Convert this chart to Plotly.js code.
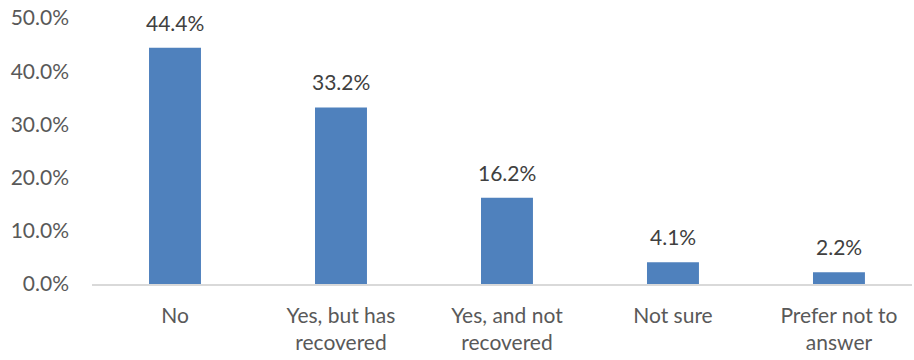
<!DOCTYPE html>
<html><head><meta charset="utf-8">
<script src="https://cdn.plot.ly/plotly-3.0.1.min.js"></script>
<style>body{margin:0;background:#fff}#c{width:914px;height:360px}</style>
</head><body><div id="c"></div>
<script>
const categories = ["No", "Yes, but has<br>recovered", "Yes, and not<br>recovered", "Not sure", "Prefer not to<br>answer"];
const values = [44.4, 33.2, 16.2, 4.1, 2.2];
const tickVals = [0, 10, 20, 30, 40, 50];
const tickText = ["0.0%", "10.0%", "20.0%", "30.0%", "40.0%", "50.0%"];

const font = "Lato, 'Open Sans', sans-serif";
Plotly.newPlot("c", [{
  type: "bar",
  x: categories,
  y: values,
  marker: {color: "#4F81BD"},
  hoverinfo: "none"
}], {
  width: 914, height: 360,
  margin: {l: 92, r: 2, t: 18, b: 76},
  paper_bgcolor: "#fff", plot_bgcolor: "#fff",
  bargap: 0.687,
  showlegend: false,
  annotations: categories.map((c, i) => ({
    x: c, y: values[i], xref: "x", yref: "y",
    text: values[i].toFixed(1) + "%",
    showarrow: false, yanchor: "bottom", yshift: 11,
    font: {family: font, size: 21, color: "#404040"}
  })),
  xaxis: {
    type: "category",
    range: [-0.5, 4.44],
    showline: true, linecolor: "#d9d9d9", linewidth: 1.5,
    ticks: "", showgrid: false,
    ticklabelstandoff: 12,
    tickfont: {family: font, size: 21, color: "#595959"}
  },
  yaxis: {
    range: [0, 50], tickvals: tickVals, ticktext: tickText,
    showgrid: false, zeroline: false, showline: false, ticks: "",
    ticklabelstandoff: 22,
    tickfont: {family: font, size: 21, color: "#595959"}
  }
}, {displayModeBar: false, staticPlot: true});
</script></body></html>
